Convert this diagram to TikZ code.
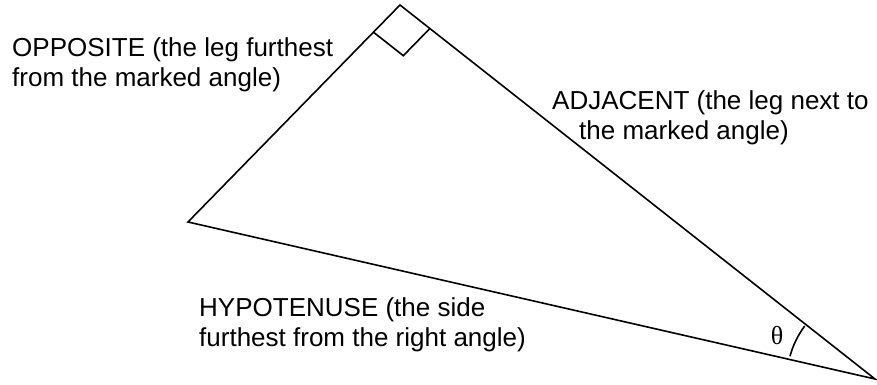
\documentclass[tikz,border=0pt]{standalone}
\usepackage{fontspec}
\setmainfont{Liberation Sans}
\newfontfamily\thetafont{Liberation Serif}
\usetikzlibrary{calc}
\tikzset{
  edge/.style={line width=1.6pt, line join=miter},
  lbl/.style={anchor=base west, inner sep=0pt, font=\fontsize{26}{29.5}\selectfont},
}
\begin{document}
\begin{tikzpicture}[x=1pt,y=1pt]
\useasboundingbox (0,0) rectangle (877,385);
\coordinate (A) at (400,380);
\coordinate (B) at (188,163);
\coordinate (C) at (875,6);
\draw[edge] (A) -- (B) -- (C) -- cycle;
% right-angle marker
\coordinate (m1) at ($(A)!38pt!(B)$);
\coordinate (m2) at ($(A)!38pt!(C)$);
\coordinate (m3) at ($(m1)+(m2)-(A)$);
\draw[line width=1.6pt] (m1) -- (m3) -- (m2);
% angle arc
\draw[line width=1.6pt] ($(C)+(165:88)$) arc[start angle=165, end angle=143, radius=88];
\node[anchor=base, inner sep=0pt, font=\thetafont\fontsize{26}{29.5}\selectfont] (theta) at (777,40) {θ};
% labels
\node[lbl] (opp1) at (12,328) {OPPOSITE (the leg furthest};
\node[lbl] (opp2) at (12,298.5) {from the marked angle)};
\node[lbl] (adj1) at (552,275) {ADJACENT (the leg next to};
\node[lbl] (adj2) at (579,245.5) {the marked angle)};
\node[lbl] (hyp1) at (199,68) {HYPOTENUSE (the side};
\node[lbl] (hyp2) at (199,38.5) {furthest from the right angle)};
\end{tikzpicture}
\end{document}
